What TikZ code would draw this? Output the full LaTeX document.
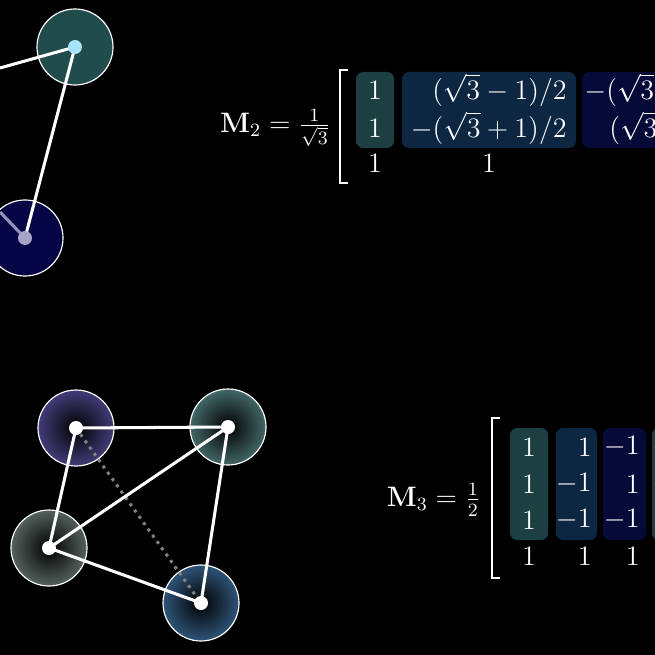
\documentclass[tikz,border=0pt]{standalone}
\usepackage{amsmath}
\usepackage{amssymb}
\definecolor{tealnode}{rgb}{0.13, 0.30, 0.30}
\definecolor{navynode}{rgb}{0.02, 0.02, 0.27}
\definecolor{purplenode}{rgb}{0.30, 0.28, 0.55}
\definecolor{greynode}{rgb}{0.33, 0.38, 0.36}
\definecolor{bluenode}{rgb}{0.18, 0.33, 0.47}
\definecolor{colteal}{rgb}{0.11, 0.25, 0.26}
\definecolor{colblue}{rgb}{0.05, 0.15, 0.26}
\definecolor{colnavy}{rgb}{0.02, 0.04, 0.22}
\tikzset{
    vtx/.style={circle, draw=white, line width=0.5pt, minimum size=1.14cm, inner sep=0pt},
    dot/.style={circle, fill=#1, minimum size=0.21cm, inner sep=0pt},
    edge/.style={white, line width=1.3pt},
    colbox/.style={fill=#1, rounded corners=3pt},
    entry/.style={text=white, inner sep=0pt, font=\large},
}
\begin{document}
\begin{tikzpicture}[x=0.015cm, y=-0.015cm]
    \fill[black] (0,0) rectangle (655,655);
    \useasboundingbox (0,0) rectangle (655,655);
    \begin{scope}
        \clip (0,0) rectangle (655,655);
        % Top graph
        \node[vtx, fill=tealnode] (a) at (75,47) {};
        \node[vtx, fill=navynode] (b) at (25,238) {};
        \coordinate (aleft) at (0,68);
        \coordinate (bleft) at (0,212);
        \draw[edge] (aleft) -- (a.center);
        \draw[edge] (a.center) -- (b.center);
        \draw[edge, color=purplenode!60!white] (bleft) -- (b.center);
        \node[dot=cyan!35!white] at (a.center) {};
        \node[dot=purplenode!50!white] at (b.center) {};
        % Bottom graph
        \shade[inner color=black, outer color=purplenode!85!black] (76,428) circle (38);
        \shade[inner color=black, outer color=tealnode!85!white] (228,427) circle (38);
        \shade[inner color=black, outer color=greynode] (49,548) circle (38);
        \shade[inner color=black, outer color=bluenode] (201,603) circle (38);
        \node[vtx] (p1) at (76,428) {};
        \node[vtx] (p2) at (228,427) {};
        \node[vtx] (p3) at (49,548) {};
        \node[vtx] (p4) at (201,603) {};
        \draw[edge, dotted, gray] (p1.center) -- (p4.center);
        \draw[edge] (p1.center) -- (p2.center);
        \draw[edge] (p1.center) -- (p3.center);
        \draw[edge] (p2.center) -- (p3.center);
        \draw[edge] (p2.center) -- (p4.center);
        \draw[edge] (p3.center) -- (p4.center);
        \foreach \p in {p1,p2,p3,p4}
            \node[dot=white] at (\p.center) {};
        % Matrix M2
        \node[entry, anchor=east] (m2) at (331,128) {$\mathbf{M}_2 = \frac{1}{\sqrt{3}}$};
        \draw[white, line width=1pt] (348,70) -- (340,70) -- (340,183) -- (348,183);
        \fill[colbox=colteal] (356,72) rectangle (394,148);
        \fill[colbox=colblue] (402,72) rectangle (576,148);
        \fill[colbox=colnavy] (582,72) rectangle (680,148);
        \foreach \y in {90,128,163}
            \node[entry] at (375,\y) {$1$};
        \node[entry, anchor=east] (r1) at (567,90) {$(\sqrt{3}-1)/2$};
        \node[entry, anchor=east] (r2) at (567,128) {$-(\sqrt{3}+1)/2$};
        \node[entry] (r3) at (489,163) {$1$};
        \node[entry, anchor=west] (s1) at (584,90) {$-(\sqrt{3}-1)/2$};
        \node[entry, anchor=west] (s2) at (609,128) {$(\sqrt{3}+1)/2$};
        % Matrix M3
        \node[entry, anchor=east] (m3) at (481,500) {$\mathbf{M}_3 = \frac{1}{2}$};
        \draw[white, line width=1pt] (500,418) -- (492,418) -- (492,578) -- (500,578);
        \fill[colbox=colteal] (510,428) rectangle (548,540);
        \fill[colbox=colblue] (556,428) rectangle (597,540);
        \fill[colbox=colnavy] (603,428) rectangle (646,540);
        \fill[colbox=colteal] (652,428) rectangle (690,540);
        \foreach \y in {447,484,520,556}
            \node[entry] at (529,\y) {$1$};
        \node[entry, anchor=east] at (592,447) {$1$};
        \node[entry, anchor=east] at (592,484) {$-1$};
        \node[entry, anchor=east] at (592,520) {$-1$};
        \node[entry, anchor=east] at (592,556) {$1$};
        \node[entry, anchor=east] at (640,447) {$-1$};
        \node[entry, anchor=east] at (640,484) {$1$};
        \node[entry, anchor=east] at (640,520) {$-1$};
        \node[entry, anchor=east] at (640,556) {$1$};
        \node[entry, anchor=west] at (652,447) {$-1$};
        \node[entry, anchor=west] at (652,484) {$-1$};
    \end{scope}
\end{tikzpicture}
\end{document}
